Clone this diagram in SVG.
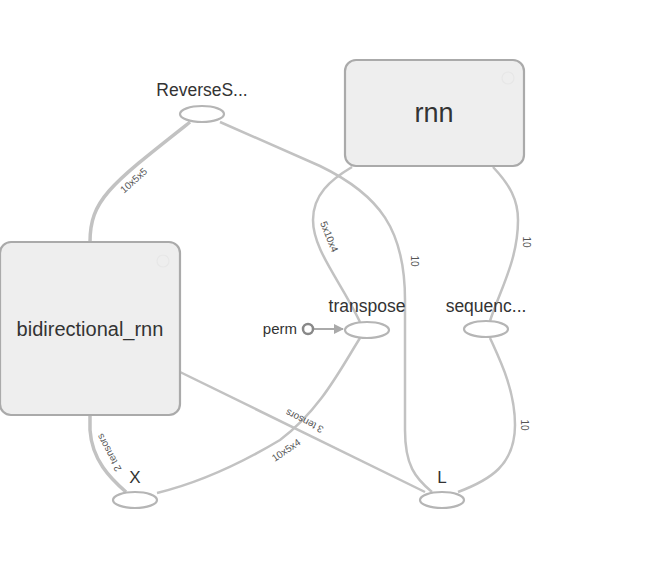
<svg xmlns="http://www.w3.org/2000/svg" width="651" height="569" viewBox="0 0 651 569">
<defs>
<style>
.edge{fill:none;stroke:#c2c2c2;stroke-width:2.5}
.thick{stroke-width:3.5}
.box{fill:#eeeeee;stroke:#aaaaaa;stroke-width:2.2}
.op{fill:#ffffff;stroke:#b5b5b5;stroke-width:2.2}
.lbl{font-family:"Liberation Sans",Arial,sans-serif;fill:#333;text-anchor:middle}
.el{font-family:"Liberation Sans",Arial,sans-serif;fill:#555;font-size:10px;text-anchor:middle}
.btn{fill:none;stroke:#e7e7e7;stroke-width:1.2}
</style>
<marker id="arr" viewBox="0 0 10 10" refX="9" refY="5" markerWidth="5" markerHeight="5" orient="auto" markerUnits="strokeWidth">
<path d="M0,0 L10,5 L0,10 z" fill="#aaaaaa"/>
</marker>
</defs>
<rect width="651" height="569" fill="#ffffff"/>
<g id="connectors">
<path class="edge thick" d="M90,242 C90,200 110,185 190,122"/>
<path class="edge" d="M220,122 L320,166 C380,195 405,230 405,300 L405,430 C405,465 415,478 432,492"/>
<path class="edge" d="M352,167 C330,180 313,195 313,220 C313,250 340,280 360,322"/>
<path class="edge" d="M493,167 C510,185 518,200 518,220 C518,260 500,290 490,321"/>
<path class="edge" d="M490,338 C500,360 515,390 515,425 C515,465 490,480 458,492"/>
<path class="edge" d="M360,338 C340,370 320,410 280,440 C230,470 190,485 157,493"/>
<path class="edge thick" d="M90,416 L90,430 C92,460 110,478 126,492"/>
<path class="edge" d="M180,372 L425,492"/>
<line x1="314" y1="329" x2="343" y2="329" stroke="#aaaaaa" stroke-width="2" marker-end="url(#arr)"/>
<text class="el" transform="translate(136,183) rotate(-42)">10x5x5</text>
<text class="el" transform="translate(326,238) rotate(68)">5x10x4</text>
<text class="el" transform="translate(411,261) rotate(90)">10</text>
<text class="el" transform="translate(523,242) rotate(90)">10</text>
<text class="el" transform="translate(521,425) rotate(90)">10</text>
<text class="el" transform="translate(112,451) rotate(-118)">2 tensors</text>
<text class="el" transform="translate(306,418) rotate(-153)">3 tensors</text>
<text class="el" transform="translate(288,453) rotate(-34)">10x5x4</text>
</g>
<g id="rnn">
<rect class="box" x="345" y="60" width="179" height="106" rx="11"/>
<circle class="btn" cx="508" cy="78" r="6"/>
<text class="lbl" x="434" y="122" font-size="27">rnn</text>
</g>
<g id="bidirectional_rnn">
<rect class="box" x="0" y="242" width="180" height="173" rx="11"/>
<circle class="btn" cx="163" cy="261" r="6"/>
<text class="lbl" x="90" y="336" font-size="20">bidirectional_rnn</text>
</g>
<g id="ReverseS">
<ellipse class="op" cx="202" cy="114" rx="22" ry="8"/>
<text class="lbl" x="202" y="96" font-size="17.5">ReverseS...</text>
</g>
<g id="transpose">
<ellipse class="op" cx="367" cy="330" rx="22" ry="8"/>
<text class="lbl" x="367" y="312" font-size="17.5">transpose</text>
</g>
<g id="sequenc">
<ellipse class="op" cx="486" cy="329" rx="22" ry="8"/>
<text class="lbl" x="486" y="312" font-size="17.5">sequenc...</text>
</g>
<g id="perm">
<circle cx="308" cy="329" r="5" fill="#ffffff" stroke="#888888" stroke-width="2.5"/>
<text x="297" y="334" font-family="Liberation Sans,Arial,sans-serif" font-size="15" fill="#333" text-anchor="end">perm</text>
</g>
<g id="X">
<ellipse class="op" cx="135" cy="500" rx="22" ry="8"/>
<text class="lbl" x="135" y="483" font-size="17">X</text>
</g>
<g id="L">
<ellipse class="op" cx="442" cy="500" rx="22" ry="8"/>
<text class="lbl" x="442" y="483" font-size="17">L</text>
</g>
</svg>
